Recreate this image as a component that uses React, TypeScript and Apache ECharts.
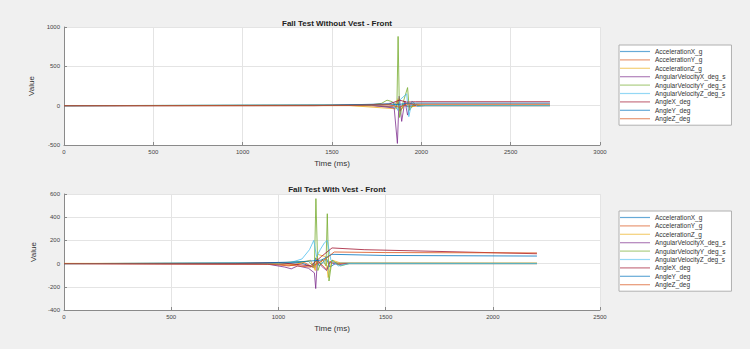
import React, { useEffect, useRef } from "react";
import * as echarts from "echarts";

const seriesNames = [
  "AccelerationX_g",
  "AccelerationY_g",
  "AccelerationZ_g",
  "AngularVelocityX_deg_s",
  "AngularVelocityY_deg_s",
  "AngularVelocityZ_deg_s",
  "AngleX_deg",
  "AngleY_deg",
  "AngleZ_deg",
];
const colors = ["#0072BD", "#D95319", "#EDB120", "#7E2F8E", "#77AC30", "#4DBEEE", "#A2142F", "#0072BD", "#D95319"];

const topTicksX = [0, 500, 1000, 1500, 2000, 2500, 3000];
const topTicksY = [-500, 0, 500, 1000];
const bottomTicksX = [0, 500, 1000, 1500, 2000, 2500];
const bottomTicksY = [-400, -200, 0, 200, 400, 600];

// Top: Fall Test Without Vest - Front  ([time ms, value])
const topAccX = [[0, 0], [1500, 2], [1720, 5], [1858, -20], [1868, 40], [1878, -30], [1898, 15], [1918, -10], [1968, 3], [2720, 2]];
const topAccY = [[0, 0], [1600, 1], [1838, -8], [1868, 60], [1880, -70], [1908, 20], [1928, -15], [1978, 1], [2720, 1]];
const topAccZ = [[0, 1], [1600, 1], [1858, -40], [1870, 90], [1884, -60], [1918, 30], [1938, -20], [1988, 6], [2720, 6]];
const topGyrX = [[0, 0], [1720, 5], [1848, -30], [1866, -480], [1876, 120], [1890, -200], [1908, 60], [1923, -120], [1938, 30], [1978, -5], [2018, 0], [2720, 0]];
const topGyrY = [[0, 0], [1720, 10], [1778, 30], [1808, 70], [1838, 50], [1863, -40], [1870, 880], [1878, -150], [1898, 40], [1923, 230], [1933, -60], [1958, 20], [1998, 0], [2720, 0]];
const topGyrZ = [[0, 0], [1768, 10], [1848, 40], [1868, -60], [1883, 80], [1918, 150], [1930, -140], [1948, 60], [1978, -10], [2018, 0], [2720, 0]];
const topAngX = [[0, 0], [1400, 0], [1600, 8], [1818, 20], [1878, 70], [1918, 45], [1968, 50], [2720, 50]];
const topAngY = [[0, 0], [1500, 6], [1768, 20], [1868, 15], [1918, 28], [1968, 32], [2720, 32]];
const topAngZ = [[0, 0], [1600, 4], [1818, 12], [1878, -20], [1918, 20], [1968, 18], [2720, 18]];

// Bottom: Fall Test With Vest - Front
const botAccX = [[0, 0], [900, 3], [1000, -5], [1100, 10], [1160, -30], [1175, 50], [1190, -20], [1225, 40], [1240, -30], [1270, 5], [2206, 3]];
const botAccY = [[0, 0], [950, -5], [1050, -20], [1120, 10], [1170, -40], [1180, 30], [1225, -50], [1240, 20], [1280, 0], [2206, 0]];
const botAccZ = [[0, 2], [1000, 2], [1080, -10], [1150, 30], [1172, -60], [1182, 80], [1220, 60], [1232, -120], [1250, 30], [1290, 5], [2206, 5]];
const botGyrX = [[0, 0], [950, -5], [1030, -30], [1060, -45], [1090, -20], [1140, -40], [1168, -80], [1174, -215], [1182, 40], [1200, -20], [1225, -60], [1240, 10], [1280, -10], [1320, 0], [2206, 0]];
const botGyrY = [[0, 0], [1000, 5], [1080, 15], [1140, 20], [1168, -30], [1175, 560], [1184, -60], [1205, 40], [1222, -20], [1228, 430], [1236, -150], [1250, 30], [1290, -20], [1330, 0], [2206, 0]];
const botGyrZ = [[0, 0], [1050, 5], [1110, 40], [1145, 120], [1165, 200], [1178, 60], [1195, 120], [1215, 180], [1228, 200], [1245, 30], [1280, -20], [1330, 0], [2206, 0]];
const botAngX = [[0, 0], [800, 0], [1000, 10], [1150, -20], [1200, 60], [1250, 135], [1400, 120], [2206, 85]];
const botAngY = [[0, 0], [900, 5], [1100, 15], [1200, 30], [1250, 80], [1500, 70], [2206, 65]];
const botAngZ = [[0, 0], [1000, -5], [1150, -30], [1220, 40], [1260, 100], [1500, 95], [2206, 92]];

const topData = [topAccX, topAccY, topAccZ, topGyrX, topGyrY, topGyrZ, topAngX, topAngY, topAngZ];
const botData = [botAccX, botAccY, botAccZ, botGyrX, botGyrY, botGyrZ, botAngX, botAngY, botAngZ];

const FONT = "Liberation Sans";

function xAxis(gridIndex: number, ticks: number[]) {
  return {
    type: "value",
    gridIndex,
    min: ticks[0],
    max: ticks[ticks.length - 1],
    interval: ticks[1] - ticks[0],
    name: "Time (ms)",
    nameLocation: "middle",
    nameGap: 14,
    nameTextStyle: { fontFamily: FONT, fontSize: 8, color: "#333" },
    axisLine: { show: true, onZero: false, lineStyle: { color: "#8a8a8a", width: 1 } },
    axisTick: { show: true, inside: true, length: 3, lineStyle: { color: "#8a8a8a" } },
    axisLabel: { fontFamily: FONT, fontSize: 6, color: "#444", margin: 4, formatter: (v: number) => String(v) },
    splitLine: { show: true, lineStyle: { color: "#e4e4e4", width: 1 } },
  };
}
function yAxis(gridIndex: number, ticks: number[]) {
  return {
    type: "value",
    gridIndex,
    min: ticks[0],
    max: ticks[ticks.length - 1],
    interval: ticks[1] - ticks[0],
    name: "Value",
    nameLocation: "middle",
    nameGap: 24,
    nameTextStyle: { fontFamily: FONT, fontSize: 8, color: "#333" },
    axisLine: { show: true, lineStyle: { color: "#8a8a8a", width: 1 } },
    axisTick: { show: true, inside: true, length: 3, lineStyle: { color: "#8a8a8a" } },
    axisLabel: { fontFamily: FONT, fontSize: 6, color: "#444", margin: 4, formatter: (v: number) => String(v) },
    splitLine: { show: true, lineStyle: { color: "#e4e4e4", width: 1 } },
  };
}

function legend(top: number) {
  return {
    orient: "vertical",
    left: 619,
    top,
    data: seriesNames,
    icon: "rect",
    itemWidth: 30,
    itemHeight: 1.2,
    itemGap: 1.4,
    padding: [3, 6, 3, 1],
    backgroundColor: "#ffffff",
    borderColor: "#b0b0b0",
    borderWidth: 1,
    borderRadius: 0,
    itemStyle: { opacity: 0.6 },
    textStyle: { fontFamily: FONT, fontSize: 6.5, color: "#333" },
  };
}

export default function App() {
  const ref = useRef<HTMLDivElement>(null);
  useEffect(() => {
    document.body.style.margin = "0";
    document.body.style.background = "#f0f0f0";
    const chart = echarts.init(ref.current!, null, { renderer: "svg" });
    const series: any[] = [];
    topData.forEach((d, i) => {
      series.push({
        name: seriesNames[i], type: "line", xAxisIndex: 0, yAxisIndex: 0, data: d,
        showSymbol: false, symbol: "none", color: colors[i], lineStyle: { width: 1, opacity: 0.8 },
      });
    });
    botData.forEach((d, i) => {
      series.push({
        name: seriesNames[i], type: "line", xAxisIndex: 1, yAxisIndex: 1, data: d,
        showSymbol: false, symbol: "none", color: colors[i], lineStyle: { width: 1, opacity: 0.8 },
      });
    });
    chart.setOption({
      animation: false,
      backgroundColor: "#f0f0f0",
      title: [
        { text: "Fall Test Without Vest - Front", left: 332, top: 14, textAlign: "center",
          textStyle: { fontFamily: FONT, fontSize: 8, fontWeight: "bold", color: "#222" } },
        { text: "Fall Test With Vest - Front", left: 332, top: 180, textAlign: "center",
          textStyle: { fontFamily: FONT, fontSize: 8, fontWeight: "bold", color: "#222" } },
      ],
      legend: [legend(45), legend(211)],
      grid: [
        { left: 64, top: 27, width: 536, height: 118, show: true, backgroundColor: "#ffffff", borderWidth: 0 },
        { left: 64, top: 194, width: 536, height: 116, show: true, backgroundColor: "#ffffff", borderWidth: 0 },
      ],
      xAxis: [xAxis(0, topTicksX), xAxis(1, bottomTicksX)],
      yAxis: [yAxis(0, topTicksY), yAxis(1, bottomTicksY)],
      series,
    });
    return () => chart.dispose();
  }, []);
  return <div ref={ref} style={{ width: 750, height: 349 }} />;
}
